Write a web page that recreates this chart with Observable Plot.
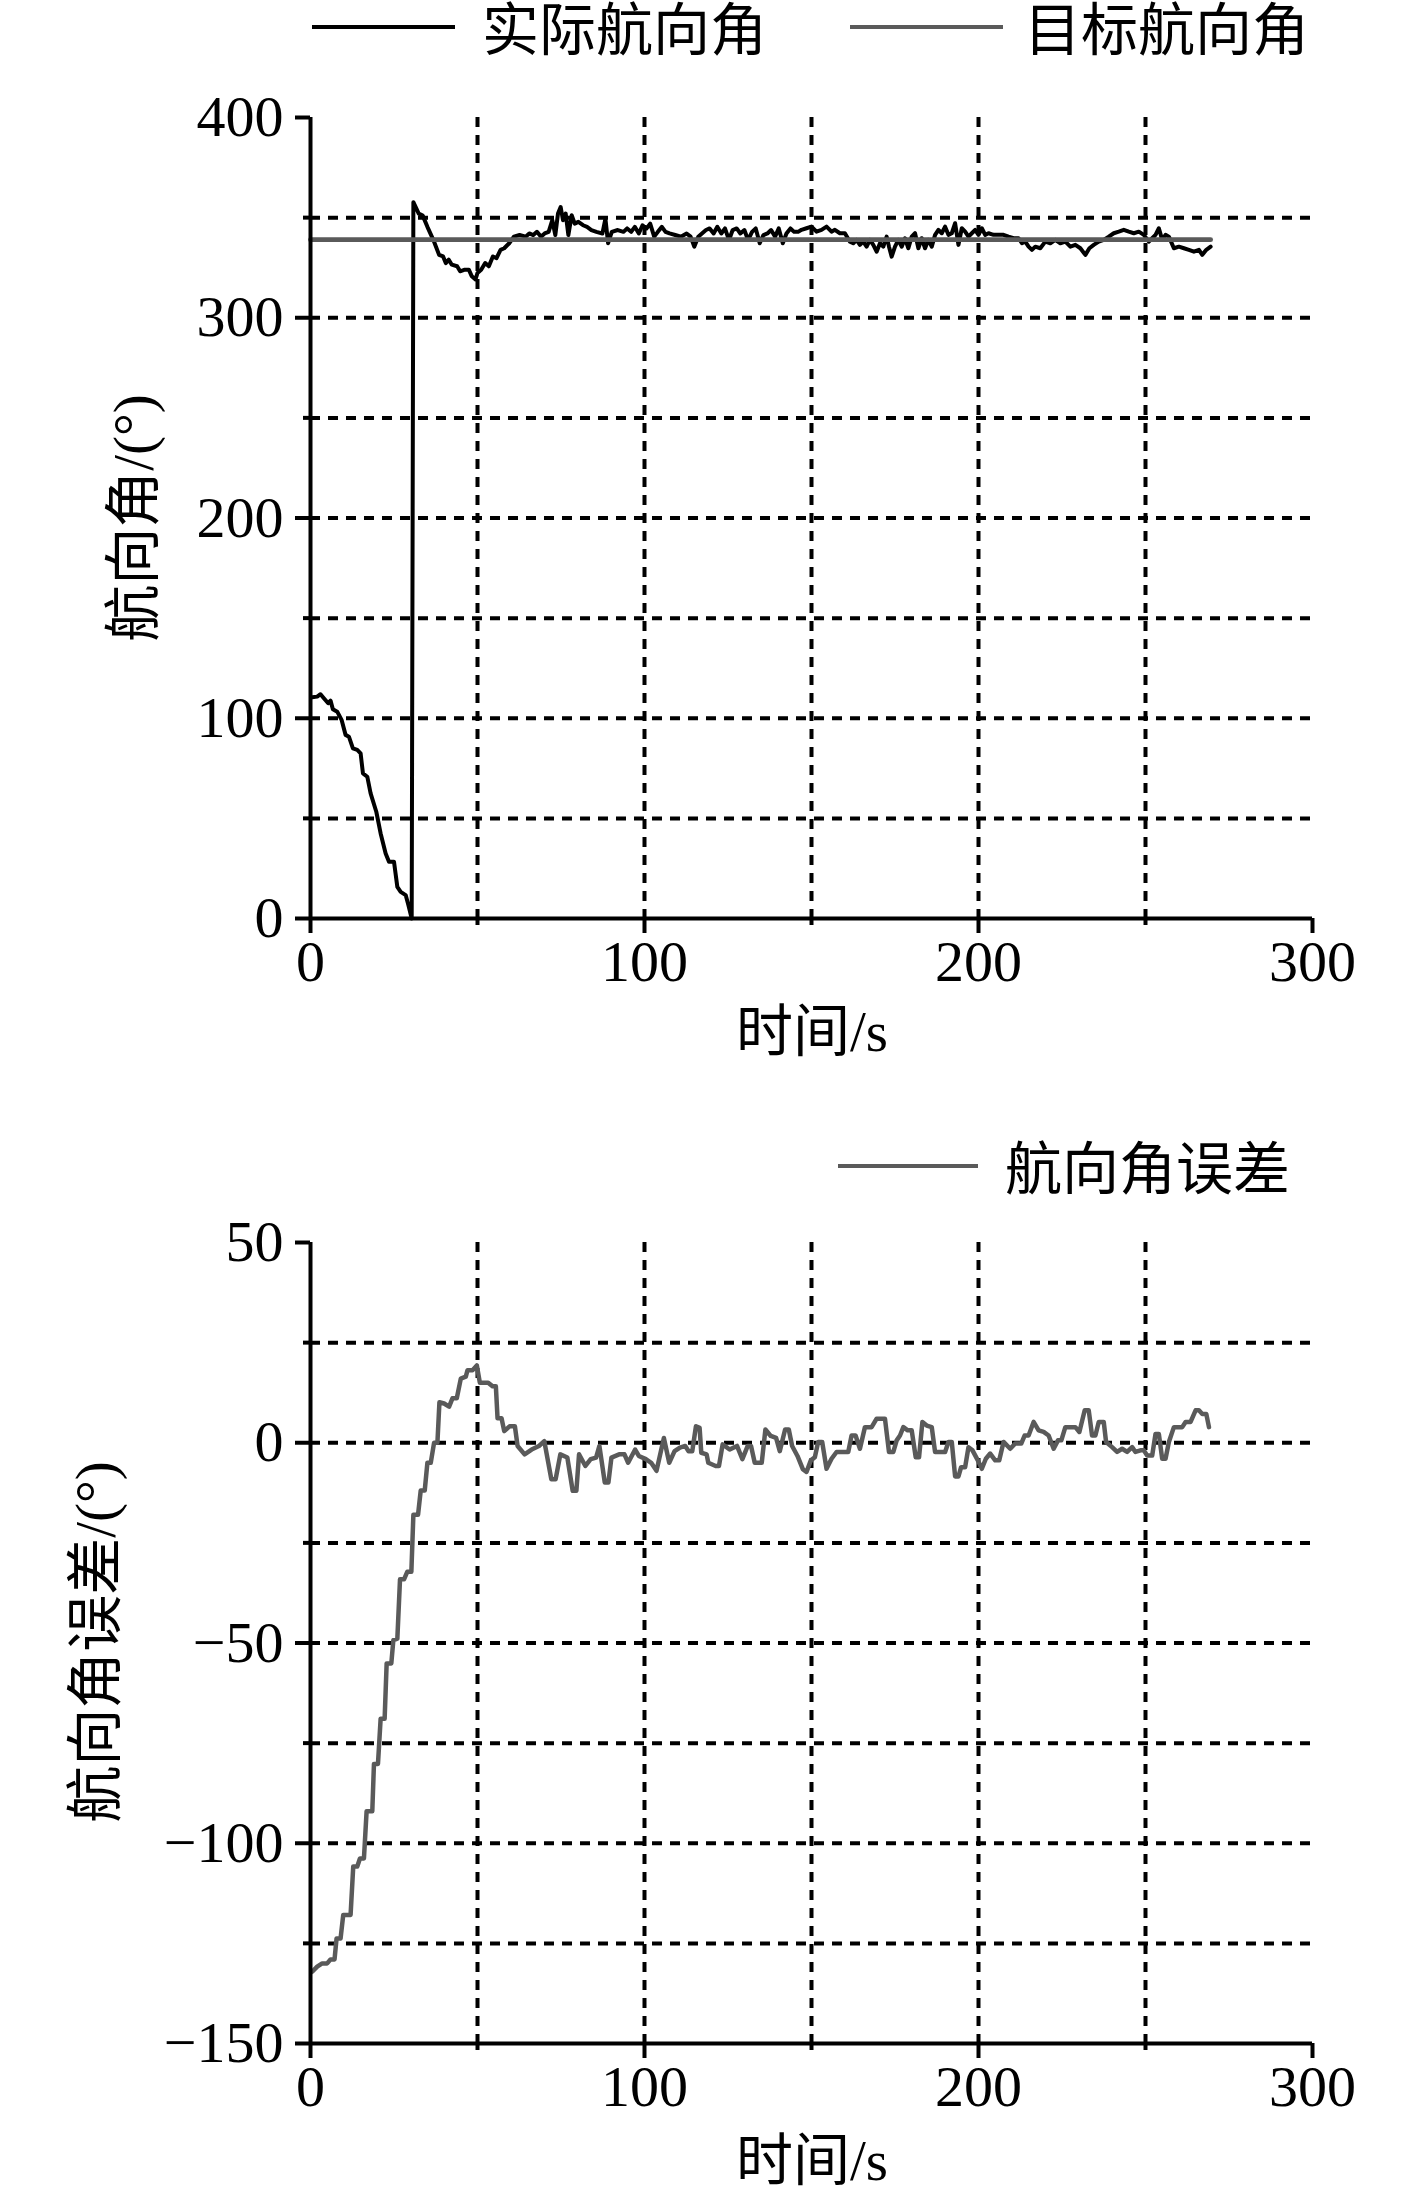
<!DOCTYPE html>
<html><head><meta charset="utf-8">
<script src="https://cdn.jsdelivr.net/npm/d3@7"></script>
<script src="https://cdn.jsdelivr.net/npm/@observablehq/plot@0.6"></script>
<style>
body{margin:0;background:#fff;}
#root{position:relative;width:1417px;height:2199px;background:#fff;overflow:hidden;}
.abs{position:absolute;white-space:nowrap;}
.txt{font-family:"Liberation Serif","Noto Sans CJK SC",serif;font-size:57px;line-height:57px;color:#000;}
.svgwrap{position:absolute;left:0;}
</style>
</head><body>
<div id="root"></div>
<script>
// ---------- data ----------
const xTicks = [0, 100, 200, 300];
const xGrid = [50, 100, 150, 200, 250];
const xMinor = [50, 150, 250];

const topYTicks = [0, 100, 200, 300, 400];
const topYGrid = [50, 100, 150, 200, 250, 300, 350];
const topYMinor = [50, 150, 250, 350];

const botYTicks = [-150, -100, -50, 0, 50];
const botYGrid = [-125, -100, -75, -50, -25, 0, 25];
const botYMinor = [-125, -75, -25, 25];

const legendTop = ["实际航向角", "目标航向角"];
const legendBottom = ["航向角误差"];
const xLabel = "时间/s";
const yLabelTop = "航向角/(°)";
const yLabelBottom = "航向角误差/(°)";

// target heading (time s, degrees)
const targetHeading = [[0, 339], [269.5, 339]];

// actual heading (time s, degrees)
const actualHeading = [
[0.5,110.5],[2,110.8],[3,112],[4,110],[5.3,107.5],[6,108.8],[6.7,104.5],[8,103.3],[9.3,99.2],[10.5,91.7],
[11.5,90.8],[12.7,85],[14,84.2],[15,82.5],[15.7,72.5],[17,70.8],[18,62.5],[19.7,53.3],[21,42.5],[22.5,32.5],
[23.5,28.3],[25,28.3],[26,15.8],[27,13.3],[28.5,11.7],[29.3,6.7],[30.3,0],[30.8,357.7],[32.4,352],[33.6,351],
[35,345.4],[36.8,338.8],[38.5,331.4],[39.7,330.6],[40.5,327.3],[41.4,329],[42.3,326.5],[43.9,325.7],[44.8,323.2],[46.2,324],
[47.4,324],[48.3,320.7],[49.4,319.1],[50,322.4],[51.1,324],[52.3,327.3],[53.4,325.7],[54.6,330.6],[55.7,329.8],[56.9,333.9],
[58,334.7],[59.5,337.2],[60.9,340.5],[62.6,341.3],[64.4,340.5],[65.5,342.1],[66.7,341.3],[67.8,342.9],[69,340.5],[70.1,342.1],
[71.3,342.9],[72.4,348.7],[73.3,341.3],[74.1,352],[74.9,355.3],[75.6,348.7],[76.4,352],[77.2,341.3],[78.2,351.2],[79.1,347],
[80.2,347.9],[81.6,346.2],[82.8,345.4],[84.1,343.8],[85.6,342.9],[87.4,342.1],[88.3,349.5],[89.1,337.2],[90.2,342.9],[92,343.8],
[93.7,342.9],[94.8,344.6],[96,342.9],[97.1,345.4],[98.3,342.1],[99.4,346.2],[100.6,344.6],[101.7,347],[102.9,340.5],[104,342.9],
[105.2,345.4],[106.3,342.9],[107.5,342.1],[109.2,341.3],[110.9,340.5],[112.6,342.1],[113.8,340.5],[114.9,335.5],[116.1,340.5],[117.2,342.1],
[118.4,343.8],[119.5,344.6],[120.7,342.1],[121.8,345.4],[123,342.1],[124.1,344.6],[125.3,338.8],[126.4,343.8],[127.6,344.6],[128.7,342.1],
[129.9,343.8],[131,338.8],[132.2,342.9],[133.3,344.6],[134.5,337.2],[135.6,341.3],[136.8,342.1],[137.9,343.8],[139.1,340.5],[140.2,344.6],
[141.4,337.2],[142.5,342.1],[143.7,344.6],[144.8,342.9],[146,342.9],[147,343.9],[148.5,344.7],[150,345.5],[151.5,343],[153,343.9],
[154.5,345.5],[156,343],[157,343.9],[158.5,342.2],[160,342.2],[161.5,338],[162.5,337.2],[163.5,338.9],[164.5,336.4],[165.5,338],
[166.5,335.5],[167.5,338.9],[168.5,336.4],[169.5,333],[170.5,337.2],[171.5,335.5],[172.5,340.5],[173.2,335.5],[174,330.5],[175,335.5],
[176,338.9],[177,335.5],[178,339.7],[179,334.7],[180,340.5],[181,342.2],[182,334.7],[183,339.7],[184,334.7],[185,338.9],
[186,335.5],[187,341.4],[188,343.9],[189,342.2],[190,345.5],[191,341.4],[192,342.2],[193,347.2],[194,336.4],[195,344.7],
[196,343],[197,340.5],[198,342.2],[199,343.9],[200,341.4],[201,344.7],[202,341.4],[203,342.2],[204.5,341.4],[206,341.4],
[207.5,341.4],[209,340.5],[210.5,339.7],[212,339.7],[213,337.2],[214,338],[215,335.5],[216,333.9],[217,335.5],[218.5,334.7],
[220,338],[221.5,337.2],[223,338.9],[224.5,337.2],[226,338],[227.5,335.5],[229,336.4],[230.5,334.7],[232,331.4],[233.2,334.7],
[234.5,336.4],[236,338],[237.5,338.9],[239,340.5],[240.5,342.2],[242,343],[243.5,343.9],[245,343],[246.5,342.2],[248,343],
[249.5,341.4],[251,338],[252,339.7],[253,341.4],[254,344.7],[255,338.9],[256,341.4],[257,340.5],[258.5,334.7],[260,335.5],
[261.5,334.7],[263,333.9],[264.5,333],[266,333.9],[267,331.4],[268.2,333.9],[269.5,335.5]
];

// heading error (time s, degrees)
const headingError = [
[0.5,-132.1],[2,-130.8],[3.5,-130],[5,-130],[6,-129],[7.2,-129],[7.8,-123.8],[9,-123.8],[9.8,-117.9],[12,-117.9],
[12.8,-105.8],[14,-105.8],[14.8,-103.8],[16,-103.8],[16.8,-92],[18.5,-92],[19,-80.2],[20.2,-80.2],[21,-68.9],[22.2,-68.9],
[22.8,-55.1],[24.2,-55.1],[24.8,-49.3],[26,-48.9],[26.8,-34.1],[28,-34.1],[29,-32.2],[30.2,-32.2],[30.8,-18],[32.2,-18],
[33,-11.9],[34.2,-11.9],[35,-5],[36,-5],[37,0],[38,0],[38.6,10.1],[40,9.8],[41.5,9],[42.5,11.1],
[43.8,11.1],[45,16],[46.5,16.5],[47,18.1],[48.5,18.1],[49.8,19.3],[50.7,15],[53.2,15],[54.5,14.1],[55.5,14.1],
[56,6.1],[57.2,6.1],[58,2.9],[59.6,4.1],[61.2,4.1],[62,-0.8],[64.1,-2.9],[66.2,-1.7],[68.4,-0.8],[70,0.4],
[72.1,-9.1],[73.4,-9.1],[74.8,-2.9],[76.9,-3.7],[78.5,-12],[79.6,-12],[80.4,-2.9],[82.3,-5.8],[83.9,-4.1],[85.5,-3.7],
[86.5,-0.8],[88.1,-9.9],[89.2,-9.9],[90.1,-3.7],[92.4,-2.9],[94,-2.9],[95.1,-5],[97.2,-1.7],[98.3,-3.3],[100.4,-4.1],
[102,-5],[103.6,-7],[105.8,1.2],[107.4,-5],[109,-2.1],[110.6,-1.2],[112.2,-0.8],[113.2,-2.1],[114.3,-2.1],[115.4,4.1],
[116.5,3.7],[117,-2.5],[118.6,-2.9],[119.1,-5],[121.3,-5.8],[122.3,-5.8],[123.4,-0.4],[125.5,-1.7],[127.7,-0.8],[129.3,-4.1],
[130.9,-0.8],[131.9,-0.8],[133,-5],[135.1,-5],[136.2,3.3],[137.8,1.7],[139.4,1.2],[140.5,-2.1],[142.1,3.3],[143.2,3.3],
[144.2,-0.8],[145.8,-3.3],[147.4,-6.6],[148.5,-7.3],[149.8,-4.4],[151,-3.6],[152,0.2],[153.2,0.2],[154.5,-6.5],[156,-4],
[157.5,-2.3],[159,-2.3],[161,-2.3],[162,1.8],[163.2,1.8],[164.5,-1.5],[166,3.9],[168,3.9],[169.5,6],[172,6],
[173.2,-2.3],[174.5,-2.3],[175.5,0.6],[176.5,1.8],[177.5,3.9],[178.8,3.1],[180,3.1],[181.2,-3.6],[182.2,-3.6],[183.2,5.2],
[184.5,4.3],[186,3.9],[187,-2.3],[190,-2.3],[191,0.2],[192,0.2],[193,-8.4],[194,-8.4],[194.8,-6.1],[196,-6.1],
[197,-1.1],[198.2,-1.9],[199.8,-4.4],[201,-6.5],[202.2,-4],[203.5,-2.7],[205,-4.4],[206.2,-4.4],[207.5,0.2],[209.5,-1.5],
[211,-0.2],[212.8,-0.2],[213.8,1.8],[215,1.8],[216.5,5.2],[218,3.1],[219.5,2.7],[221,1.8],[222.5,-1.5],[223.8,0.6],
[224.8,0.6],[226,3.9],[229,3.9],[230.2,2.7],[231.8,8.1],[233,8.1],[234,1.8],[235,1.8],[236,5.2],[237.5,5.2],
[238.2,0.2],[240,-1.1],[241.5,-2.3],[243,-1.5],[244.5,-2.3],[246,-1.1],[247,-2.3],[248.5,-1.9],[249.5,-1.9],[250.5,-3.2],
[252,-3.2],[253,2.2],[254,2.2],[255,-4],[256,-4],[257,0.2],[258.5,3.9],[261,3.9],[262,5.2],[263.5,5.2],
[265,8.1],[266,8.1],[267,7.2],[268.2,7.2],[269,3.9]
];

// ---------- styles ----------
const BLACK = "#000";
const GRAY = "#5a5a5a";
const FONT = "'Liberation Serif','Times New Roman',serif";

function panel({yDomain, yTicks, yGrid, yMinor, series, height, marginTop, marginBottom}) {
  const gridStyle = {stroke: BLACK, strokeOpacity: 1, strokeWidth: 4, strokeDasharray: "10,8"};
  return Plot.plot({
    width: 1417, height, marginLeft: 310, marginRight: 105, marginTop, marginBottom,
    x: {domain: [0, 300]},
    y: {domain: yDomain},
    style: {fontFamily: FONT, fontSize: "58px", color: "#000", background: "transparent", overflow: "visible"},
    marks: [
      Plot.gridX(xGrid, gridStyle),
      Plot.gridY(yGrid, gridStyle),
      ...series.map(s => Plot.line(s.data, {x: d => d[0], y: d => d[1], stroke: s.color, strokeWidth: s.width, curve: "linear"})),
      Plot.ruleX([0], {stroke: BLACK, strokeWidth: 4}),
      Plot.ruleY([yDomain[0]], {stroke: BLACK, strokeWidth: 4}),
      Plot.axisX(xTicks, {tickSize: 15, tickPadding: 6, strokeWidth: 4, fontSize: 58, label: null, tickFormat: d => String(d)}),
      Plot.axisX(xMinor, {tickSize: 7, strokeWidth: 4, label: null, tickFormat: () => ""}),
      Plot.axisY(yTicks, {tickSize: 15, tickPadding: 12, strokeWidth: 4, fontSize: 58, label: null}),
      Plot.axisY(yMinor, {tickSize: 7, strokeWidth: 4, label: null, tickFormat: () => ""})
    ]
  });
}

const root = document.getElementById("root");

const topChart = panel({
  yDomain: [0, 400], yTicks: topYTicks, yGrid: topYGrid, yMinor: topYMinor,
  series: [
    {data: actualHeading, color: BLACK, width: 4},
    {data: targetHeading, color: GRAY, width: 4.8}
  ],
  height: 1090, marginTop: 117, marginBottom: 172
});
const w1 = document.createElement("div"); w1.className = "svgwrap"; w1.style.top = "0px"; w1.appendChild(topChart); root.appendChild(w1);

const botChart = panel({
  yDomain: [-150, 50], yTicks: botYTicks, yGrid: botYGrid, yMinor: botYMinor,
  series: [{data: headingError, color: GRAY, width: 4.5}],
  height: 1099, marginTop: 142, marginBottom: 156
});
const w2 = document.createElement("div"); w2.className = "svgwrap"; w2.style.top = "1100px"; w2.appendChild(botChart); root.appendChild(w2);

function addLine(x1, x2, yc, color, w) {
  const d = document.createElement("div");
  d.className = "abs";
  Object.assign(d.style, {left: x1 + "px", top: (yc - w / 2) + "px", width: (x2 - x1) + "px", height: w + "px", background: color});
  root.appendChild(d);
}
function addText(str, left, cy, opts = {}) {
  const d = document.createElement("div");
  d.className = "abs txt";
  d.textContent = str;
  if (opts.center) {
    Object.assign(d.style, {left: left + "px", top: cy + "px", transform: "translate(-50%,-50%)" + (opts.rotate ? " rotate(-90deg)" : "")});
  } else {
    Object.assign(d.style, {left: left + "px", top: (cy - 28.5) + "px"});
  }
  root.appendChild(d);
}

// top legend
addLine(312, 455, 27, BLACK, 4);
addText(legendTop[0], 482, 30);
addLine(850, 1003, 27, GRAY, 4.8);
addText(legendTop[1], 1024, 30);
// bottom legend
addLine(838, 978, 1166, GRAY, 4.8);
addText(legendBottom[0], 1005, 1169);

// axis labels
addText(xLabel, 812, 1031, {center: true});
addText(xLabel, 812, 2160, {center: true});
addText(yLabelTop, 133, 518, {center: true, rotate: true});
addText(yLabelBottom, 95, 1642, {center: true, rotate: true});
</script>
</body></html>
